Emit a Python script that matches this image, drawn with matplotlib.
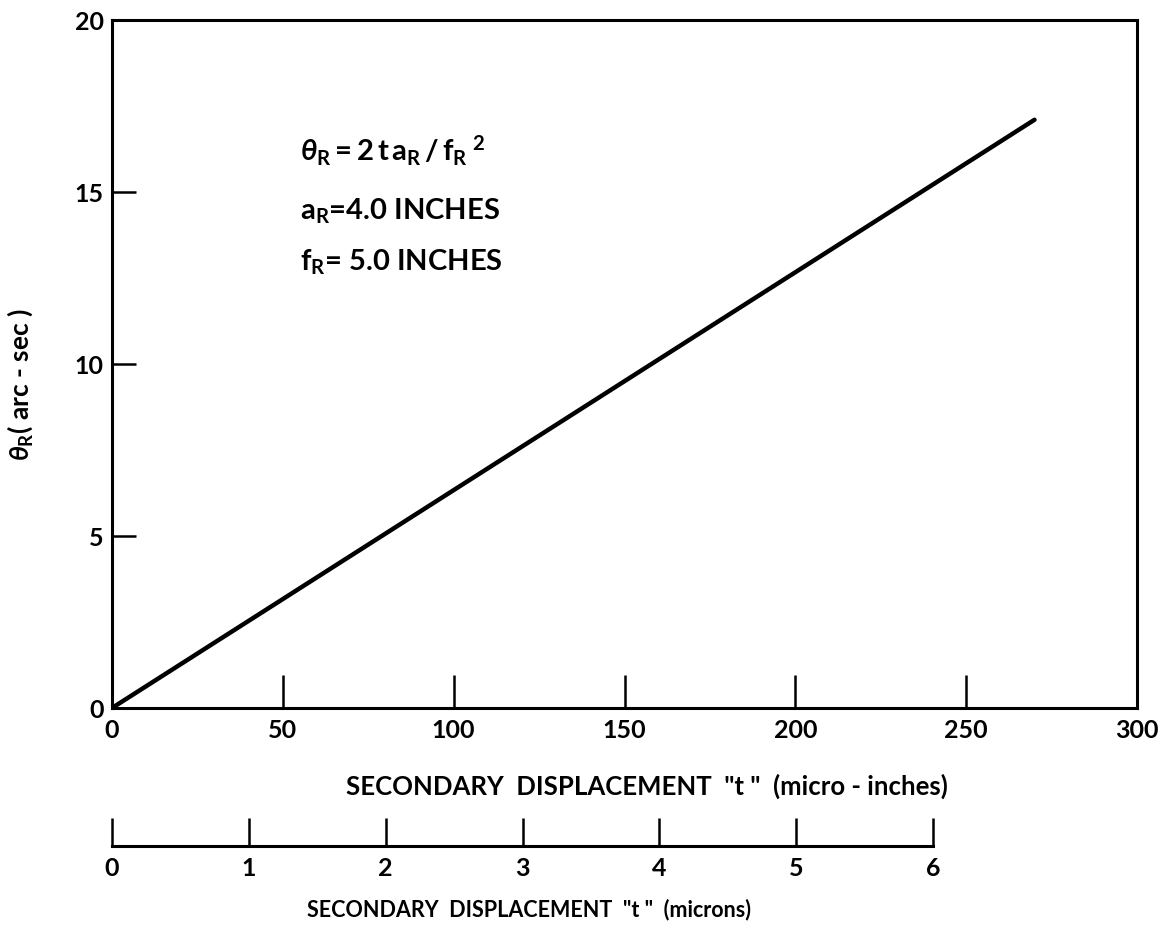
import matplotlib.pyplot as plt

plt.rcParams['font.family'] = ['Lato', 'DejaVu Sans']
plt.rcParams['font.weight'] = 'bold'
plt.rcParams['axes.labelweight'] = 'bold'
plt.rcParams['mathtext.fontset'] = 'custom'
plt.rcParams['mathtext.rm'] = 'Lato:bold'
plt.rcParams['mathtext.it'] = 'Lato:italic:bold'
plt.rcParams['mathtext.bf'] = 'Lato:bold'

# rotation angle vs secondary displacement
t_microinch = [0, 270]
theta_arcsec = [0, 17.1]

x_ticks = [0, 50, 100, 150, 200, 250, 300]
y_ticks = [0, 5, 10, 15, 20]
micron_ticks = [0, 1, 2, 3, 4, 5, 6]

fig = plt.figure(figsize=(11.67, 9.31), dpi=100)
W, H = 1167, 931

ax = fig.add_axes([112 / W, 1 - 708 / H, (1137 - 112) / W, (708 - 20) / H])
ax.plot(t_microinch, theta_arcsec, color='black', lw=3.2, solid_capstyle='round')
ax.set_xlim(0, 300)
ax.set_ylim(0, 20)
for s in ax.spines.values():
    s.set_linewidth(2.2)

ax.set_xticks(x_ticks)
ax.set_yticks(y_ticks)
ax.tick_params(axis='x', direction='in', length=24, width=1.8, pad=8, labelsize=18)
ax.tick_params(axis='y', direction='in', length=17, width=1.8, pad=6, labelsize=18)
# no tick marks at the corners
for tk in ax.xaxis.get_major_ticks()[::6]:
    tk.tick1line.set_visible(False)
for tk in ax.yaxis.get_major_ticks()[::4]:
    tk.tick1line.set_visible(False)

ax.set_xlabel('SECONDARY  DISPLACEMENT  "t "  (micro - inches)', fontsize=18.5)
ax.xaxis.set_label_coords(0.522, -0.095)
ax.set_ylabel(r'$\theta_\mathrm{R}$' + '( arc - sec )', fontsize=19)
ax.yaxis.set_label_coords(-0.075, 0.47)

ax.text(55, 16.2,
        r'$\theta_\mathrm{R} = 2\,\mathrm{t}\,\mathrm{a_R}\,/\,\mathrm{f_R}^{\ 2}$',
        fontsize=21, va='center')
ax.text(55, 14.45, r'$\mathrm{a_R}$' + '=4.0 INCHES', fontsize=21, va='center')
ax.text(55, 12.95, r'$\mathrm{f_R}$' + '= 5.0 INCHES', fontsize=21, va='center')

# micron scale drawn as a separate axis under the plot
ax2 = fig.add_axes([112 / W, 1 - 846 / H, (933 - 112) / W, 0.001])
ax2.set_xlim(0, 6)
ax2.set_yticks([])
for side in ['top', 'left', 'right']:
    ax2.spines[side].set_visible(False)
ax2.spines['bottom'].set_linewidth(2.2)
ax2.set_xticks(micron_ticks)
ax2.tick_params(axis='x', direction='in', length=20, width=1.8, pad=8, labelsize=18)
ax2.set_xlabel('SECONDARY  DISPLACEMENT  "t "  (microns)', fontsize=15.5)
ax2.xaxis.set_label_coords(0.508, -57)

fig.savefig('out.png', dpi=100)
